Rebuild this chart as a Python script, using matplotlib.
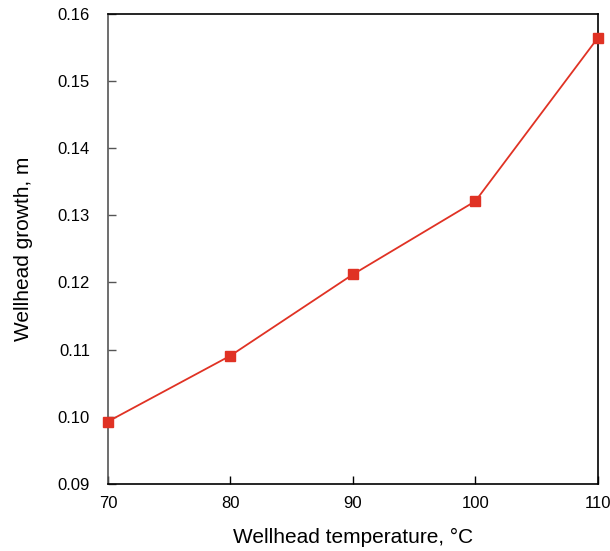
import matplotlib
matplotlib.use("Agg")
import matplotlib.pyplot as plt

temperature = [70, 80, 90, 100, 110]
growth = [0.0993, 0.1091, 0.1212, 0.1321, 0.1564]
xticks = [70, 80, 90, 100, 110]
yticks = [0.09, 0.10, 0.11, 0.12, 0.13, 0.14, 0.15, 0.16]

plt.rcParams['font.family'] = ['Liberation Sans', 'DejaVu Sans']

fig = plt.figure(figsize=(6.10, 5.51), dpi=100)
ax = fig.add_axes([0.177, 0.1216, 0.803, 0.8534])

ax.plot(temperature, growth, '-s', color='#e03224', linewidth=1.3,
        markersize=7, clip_on=False, zorder=3)

ax.set_xlim(70, 110)
ax.set_ylim(0.09, 0.16)
ax.set_xticks(xticks)
ax.set_yticks(yticks)
ax.set_yticklabels([f"{v:.2f}" for v in yticks])
ax.tick_params(direction='in', length=6, width=1, labelsize=12)
ax.tick_params(axis='x', pad=9)
ax.tick_params(axis='y', pad=13, colors='#555555', labelcolor='black')
for s in ax.spines.values():
    s.set_linewidth(1.2)
ax.spines['left'].set_color('#555555')

ax.set_xlabel("Wellhead temperature, °C", fontsize=15, labelpad=12)
ax.set_ylabel("Wellhead growth, m", fontsize=15, labelpad=18)

fig.savefig("out.png", dpi=100)
